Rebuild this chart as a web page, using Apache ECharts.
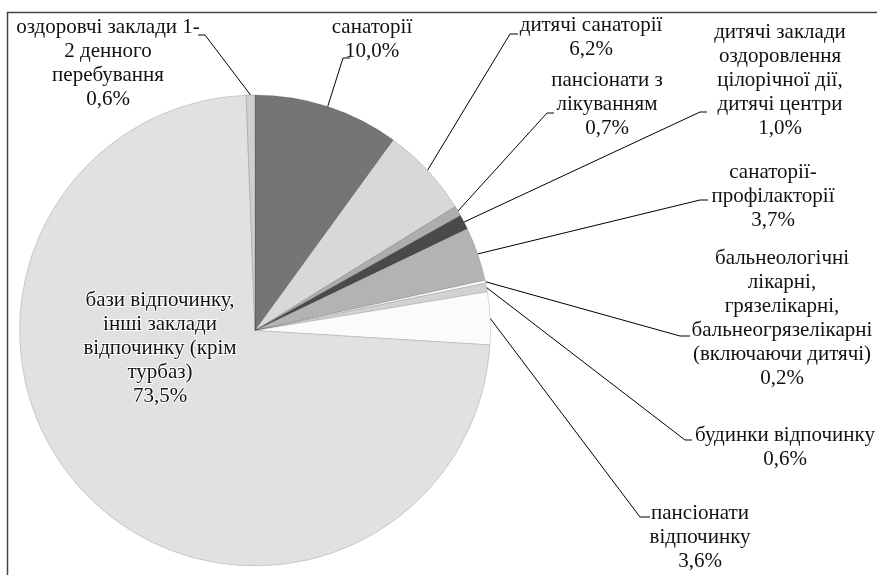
<!DOCTYPE html>
<html>
<head>
<meta charset="utf-8">
<script src="https://cdn.jsdelivr.net/npm/echarts@6/dist/echarts.min.js"></script>
<style>
html,body{margin:0;padding:0;background:#fff;}
#chart{width:877px;height:575px;}
</style>
</head>
<body>
<div id="chart"></div>
<script>
const categories = [
  'санаторії',
  'дитячі санаторії',
  'пансіонати з\nлікуванням',
  'дитячі заклади\nоздоровлення\nцілорічної дії,\nдитячі центри',
  'санаторії-\nпрофілакторії',
  'бальнеологічні\nлікарні,\nгрязелікарні,\nбальнеогрязелікарні\n(включаючи дитячі)',
  'будинки відпочинку',
  'пансіонати\nвідпочинку',
  'бази відпочинку,\nінші заклади\nвідпочинку (крім\nтурбаз)',
  'оздоровчі заклади 1-\n2 денного\nперебування'
];
const shares = [10.0, 6.2, 0.7, 1.0, 3.7, 0.2, 0.6, 3.6, 73.5, 0.6];
const colors = ['#757575', '#d8d8d8', '#adadad', '#4a4a4a', '#b3b3b3', '#fafafa', '#d2d2d2', '#fbfbfb', '#e1e1e1', '#cfcfcf'];

// label placement (center x, top y, bend point, end point) - layout only
const labelPlaces = [
  {x: 372, y: 15, bend: [343, 58], end: [350, 58]},
  {x: 591, y: 13, bend: [510, 34], end: [518, 34]},
  {x: 607, y: 68, bend: [547, 113], end: [554, 113]},
  {x: 780, y: 20, bend: [700, 112], end: [707, 112]},
  {x: 773, y: 160, bend: [700, 200], end: [708, 200]},
  {x: 782, y: 246, bend: [680, 336], end: [690, 336]},
  {x: 785, y: 423, bend: [685, 440], end: [692, 440]},
  {x: 700, y: 501, bend: [640, 517], end: [650, 517]},
  {x: 160, y: 288, inside: true},
  {x: 108, y: 15, bend: [205, 35], end: [198, 35]}
];

const CX = 255, CY = 330.5, R = 235.5;
const total = shares.reduce((a, b) => a + b, 0);

function edgePoint(i) {
  let cum = 0;
  for (let k = 0; k < i; k++) cum += shares[k];
  cum += shares[i] / 2;
  const a = cum / total * Math.PI * 2;
  return [CX + R * Math.sin(a), CY - R * Math.cos(a)];
}

const chart = echarts.init(document.getElementById('chart'), null, {renderer: 'canvas'});
const data = categories.map((n, i) => ({
  name: n,
  value: shares[i],
  itemStyle: {color: colors[i]},
  label: labelPlaces[i].inside ? {position: 'inside', textBorderColor: '#ffffff', textBorderWidth: 2} : {position: 'outside'},
  labelLine: {show: !labelPlaces[i].inside}
}));

chart.setOption({
  animation: false,
  graphic: [{
    type: 'rect',
    shape: {x: 7.5, y: 12.5, width: 900, height: 600},
    style: {fill: 'none', stroke: '#444', lineWidth: 1.5},
    silent: true,
    z: -10
  }],
  series: [{
    type: 'pie',
    center: [CX, CY],
    radius: R,
    startAngle: 90,
    clockwise: true,
    avoidLabelOverlap: false,
    data: data,
    itemStyle: {borderColor: 'rgba(0,0,0,0.18)', borderWidth: 0.8},
    label: {
      show: true,
      formatter: p => p.name + '\n' + p.value.toFixed(1).replace('.', ',') + '%',
      fontFamily: 'Liberation Serif',
      fontSize: 21,
      lineHeight: 24,
      color: '#111',
      align: 'center'
    },
    labelLine: {
      show: true,
      lineStyle: {color: '#000', width: 1}
    },
    labelLayout: function (params) {
      const pl = labelPlaces[params.dataIndex];
      const out = {x: pl.x, y: pl.y, align: 'center', verticalAlign: 'top', hideOverlap: false};
      if (!pl.inside) {
        const start = (params.labelLinePoints && params.labelLinePoints[0]) || edgePoint(params.dataIndex);
        out.labelLinePoints = [start, pl.bend, pl.end];
      }
      return out;
    }
  }]
});
</script>
</body>
</html>
